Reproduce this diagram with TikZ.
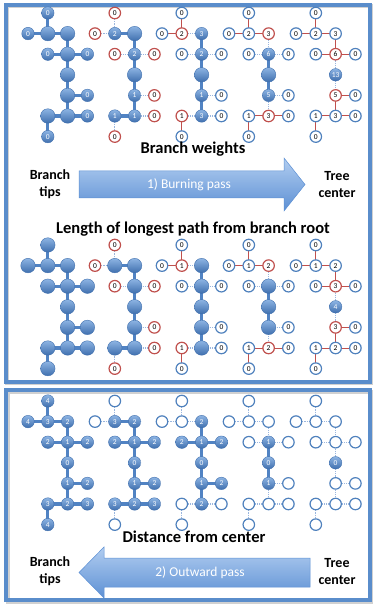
\documentclass[tikz,border=0pt]{standalone}
\usepackage{fontspec}
\setmainfont{Carlito}
\usetikzlibrary{backgrounds}

\definecolor{ballhi}{HTML}{8DB4E3}
\definecolor{balllo}{HTML}{3F6FAE}
\definecolor{ringblue}{HTML}{4F81BD}
\definecolor{ringred}{HTML}{C0504D}
\definecolor{stem}{HTML}{5183C3}
\definecolor{dots}{HTML}{9AB6DE}
\definecolor{boxblue}{HTML}{5A8DCB}
\definecolor{arrowhi}{HTML}{B1CDF0}
\definecolor{arrowlo}{HTML}{5D90D4}

\tikzset{
  nfull/.style={circle, inner sep=0pt, minimum size=12.5pt, top color=ballhi,
    bottom color=balllo, draw=balllo, line width=0.4pt, text=white,
    font=\fontsize{7.5}{8}\selectfont},
  nball/.style={nfull, minimum size=14.5pt},
  nred/.style={circle, inner sep=0pt, minimum size=11.5pt, draw=ringred,
    line width=1.2pt, fill=white, text=black, font=\fontsize{7.5}{8}\selectfont},
  nopen/.style={nred, draw=ringblue},
  eT/.style={stem, line width=3.2pt},
  eD/.style={dots, densely dotted, line width=1.1pt},
  eR/.style={ringred, line width=1pt},
  boxline/.style={boxblue, line width=4pt},
  boxshade/.style={black!18, line width=4pt},
  headline/.style={font=\fontsize{16.5}{19}\selectfont\bfseries},
  sidetext/.style={align=center, font=\fontsize{14}{17}\selectfont\bfseries},
  passtext/.style={text=white, font=\fontsize{13.5}{16}\selectfont},
  passarrow/.style={top color=arrowhi, bottom color=arrowlo, draw=arrowlo, line width=0.5pt},
}

% -----------------------
% One tree on a 4 x 7 grid, nodes #1A ... #1N
% -----------------------
\def\colstep{19.8}
\def\rowstep{20.6}
\newcommand{\treepanel}[5]{%
  \begin{scope}[shift={(#2,#3)}]
    \foreach \n/\c/\r in {A/1/0,B/0/1,C/1/1,D/2/1,E/1/2,F/2/2,G/3/2,H/2/3,I/2/4,J/3/4,K/1/5,L/2/5,M/3/5,N/1/6}
      \coordinate (#1p\n) at (\c*\colstep,\r*\rowstep);
    \foreach \n/\s/\l in {#4}
      \node[\s] (#1\n) at (#1p\n) {\l};
    \begin{pgfonlayer}{background}
      \foreach \a/\b/\s in #5
        \draw[\s] (#1\a.center) -- (#1\b.center);
    \end{pgfonlayer}
  \end{scope}
}

% edge looks, one list per step
\def\burnI{A/C/eT,B/C/eT,C/D/eT,D/F/eT,E/F/eT,F/G/eT,F/H/eT,H/I/eT,I/J/eT,I/L/eT,K/L/eT,L/M/eT,K/N/eT}
\def\burnII{A/C/eD,B/C/eD,C/D/eT,D/F/eT,E/F/eD,F/G/eD,F/H/eT,H/I/eT,I/J/eD,I/L/eT,K/L/eT,L/M/eD,K/N/eD}
\def\burnIII{A/C/eR,B/C/eR,C/D/eD,D/F/eT,E/F/eD,F/G/eD,F/H/eT,H/I/eT,I/J/eD,I/L/eT,K/L/eD,L/M/eD,K/N/eR}
\def\burnIV{A/C/eR,B/C/eR,C/D/eR,D/F/eD,E/F/eD,F/G/eD,F/H/eT,H/I/eT,I/J/eD,I/L/eD,K/L/eR,L/M/eR,K/N/eR}
\def\burnV{A/C/eR,B/C/eR,C/D/eR,D/F/eR,E/F/eR,F/G/eR,F/H/eD,H/I/eD,I/J/eR,I/L/eR,K/L/eR,L/M/eR,K/N/eR}
\def\outII{A/C/eD,B/C/eD,C/D/eT,D/F/eT,E/F/eT,F/G/eT,F/H/eT,H/I/eT,I/J/eT,I/L/eT,K/L/eT,L/M/eT,K/N/eD}
\def\outIII{A/C/eD,B/C/eD,C/D/eD,D/F/eT,E/F/eT,F/G/eT,F/H/eT,H/I/eT,I/J/eT,I/L/eT,K/L/eD,L/M/eD,K/N/eD}
\def\outIV{A/C/eD,B/C/eD,C/D/eD,D/F/eD,E/F/eD,F/G/eD,F/H/eT,H/I/eT,I/J/eD,I/L/eD,K/L/eD,L/M/eD,K/N/eD}
\def\outV{A/C/eD,B/C/eD,C/D/eD,D/F/eD,E/F/eD,F/G/eD,F/H/eD,H/I/eD,I/J/eD,I/L/eD,K/L/eD,L/M/eD,K/N/eD}

\begin{document}
\begin{tikzpicture}[x=1pt, y=-1pt, line cap=butt]

\useasboundingbox (0,0) rectangle (374,609);
\begin{pgfonlayer}{background}
  \fill[white] (0,0) rectangle (374,609);
\end{pgfonlayer}

% -----------------------
% Frames
% -----------------------
\draw[boxshade] (7,6.5) rectangle (371,383);
\draw[boxshade] (7.5,391.5) rectangle (371,601.5);
\draw[boxline] (5.5,5) rectangle (369.5,381.5);
\draw[boxline] (6,390) rectangle (369.5,600);

% -----------------------
% Branch weights
% -----------------------
\treepanel{a1}{28}{13}{A/nfull/0,B/nfull/0,C/nball/{},D/nball/{},E/nfull/0,F/nball/{},G/nfull/0,H/nball/{},I/nball/{},J/nfull/0,K/nball/{},L/nball/{},M/nfull/0,N/nfull/0}\burnI
\treepanel{a2}{95}{13}{A/nred/0,B/nred/0,C/nfull/2,D/nball/{},E/nred/0,F/nfull/2,G/nred/0,H/nball/{},I/nfull/1,J/nred/0,K/nfull/1,L/nfull/1,M/nred/0,N/nred/0}\burnII
\treepanel{a3}{162}{13}{A/nopen/0,B/nopen/0,C/nred/2,D/nfull/3,E/nopen/0,F/nfull/2,G/nopen/0,H/nball/{},I/nfull/1,J/nopen/0,K/nred/1,L/nfull/3,M/nopen/0,N/nopen/0}\burnIII
\treepanel{a4}{229}{13}{A/nopen/0,B/nopen/0,C/nopen/2,D/nred/3,E/nopen/0,F/nfull/6,G/nopen/0,H/nball/{},I/nfull/5,J/nopen/0,K/nopen/1,L/nred/3,M/nopen/0,N/nopen/0}\burnIV
\treepanel{a5}{296}{13}{A/nopen/0,B/nopen/0,C/nopen/2,D/nopen/3,E/nopen/0,F/nred/6,G/nopen/0,H/nfull/13,I/nred/5,J/nopen/0,K/nopen/1,L/nopen/3,M/nopen/0,N/nopen/0}\burnV

\node[headline] (weights) at (193,149) {Branch weights};
\path[passarrow] (79,171) -- (284,171) -- (284,158) -- (305,184.5) -- (284,211) -- (284,198) -- (79,198) -- cycle;
\node[passtext] (burning) at (189,185) {1) Burning pass};
\node[sidetext] (tipsA) at (50,184) {Branch\\tips};
\node[sidetext] (centerA) at (337,185) {Tree\\center};
\node[headline] (longest) at (193,229) {Length of longest path from branch root};

% -----------------------
% Longest path from branch root
% -----------------------
\treepanel{b1}{28}{245}{A/nball/{},B/nball/{},C/nball/{},D/nball/{},E/nball/{},F/nball/{},G/nball/{},H/nball/{},I/nball/{},J/nball/{},K/nball/{},L/nball/{},M/nball/{},N/nball/{}}\burnI
\treepanel{b2}{95}{245}{A/nred/0,B/nred/0,C/nball/{},D/nball/{},E/nred/0,F/nball/{},G/nred/0,H/nball/{},I/nball/{},J/nred/0,K/nball/{},L/nball/{},M/nred/0,N/nred/0}\burnII
\treepanel{b3}{162}{245}{A/nopen/0,B/nopen/0,C/nred/1,D/nball/{},E/nopen/0,F/nball/{},G/nopen/0,H/nball/{},I/nball/{},J/nopen/0,K/nred/1,L/nball/{},M/nopen/0,N/nopen/0}\burnIII
\treepanel{b4}{229}{245}{A/nopen/0,B/nopen/0,C/nopen/1,D/nred/2,E/nopen/0,F/nball/{},G/nopen/0,H/nball/{},I/nball/{},J/nopen/0,K/nopen/1,L/nred/2,M/nopen/0,N/nopen/0}\burnIV
\treepanel{b5}{296}{245}{A/nopen/0,B/nopen/0,C/nopen/1,D/nopen/2,E/nopen/0,F/nred/3,G/nopen/0,H/nfull/4,I/nred/3,J/nopen/0,K/nopen/1,L/nopen/2,M/nopen/0,N/nopen/0}\burnV

% -----------------------
% Distance from center
% -----------------------
\treepanel{c1}{28}{401}{A/nfull/4,B/nfull/4,C/nfull/3,D/nfull/2,E/nfull/2,F/nfull/1,G/nfull/2,H/nfull/0,I/nfull/1,J/nfull/2,K/nfull/3,L/nfull/2,M/nfull/3,N/nfull/4}\burnI
\treepanel{c2}{95}{401}{A/nopen/{},B/nopen/{},C/nfull/3,D/nfull/2,E/nfull/2,F/nfull/1,G/nfull/2,H/nfull/0,I/nfull/1,J/nfull/2,K/nfull/3,L/nfull/2,M/nfull/3,N/nopen/{}}\outII
\treepanel{c3}{162}{401}{A/nopen/{},B/nopen/{},C/nopen/{},D/nfull/2,E/nfull/2,F/nfull/1,G/nfull/2,H/nfull/0,I/nfull/1,J/nfull/2,K/nopen/{},L/nfull/2,M/nopen/{},N/nopen/{}}\outIII
\treepanel{c4}{229}{401}{A/nopen/{},B/nopen/{},C/nopen/{},D/nopen/{},E/nopen/{},F/nfull/1,G/nopen/{},H/nfull/0,I/nfull/1,J/nopen/{},K/nopen/{},L/nopen/{},M/nopen/{},N/nopen/{}}\outIV
\treepanel{c5}{296}{401}{A/nopen/{},B/nopen/{},C/nopen/{},D/nopen/{},E/nopen/{},F/nopen/{},G/nopen/{},H/nfull/0,I/nopen/{},J/nopen/{},K/nopen/{},L/nopen/{},M/nopen/{},N/nopen/{}}\outV

\node[headline] (distance) at (194,537) {Distance from center};
\path[passarrow] (310,558) -- (104,558) -- (104,547) -- (79,572.5) -- (104,598) -- (104,587) -- (310,587) -- cycle;
\node[passtext] (outward) at (200,573) {2) Outward pass};
\node[sidetext] (tipsB) at (50,571.5) {Branch\\tips};
\node[sidetext] (centerB) at (337,571.5) {Tree\\center};

\end{tikzpicture}
\end{document}
